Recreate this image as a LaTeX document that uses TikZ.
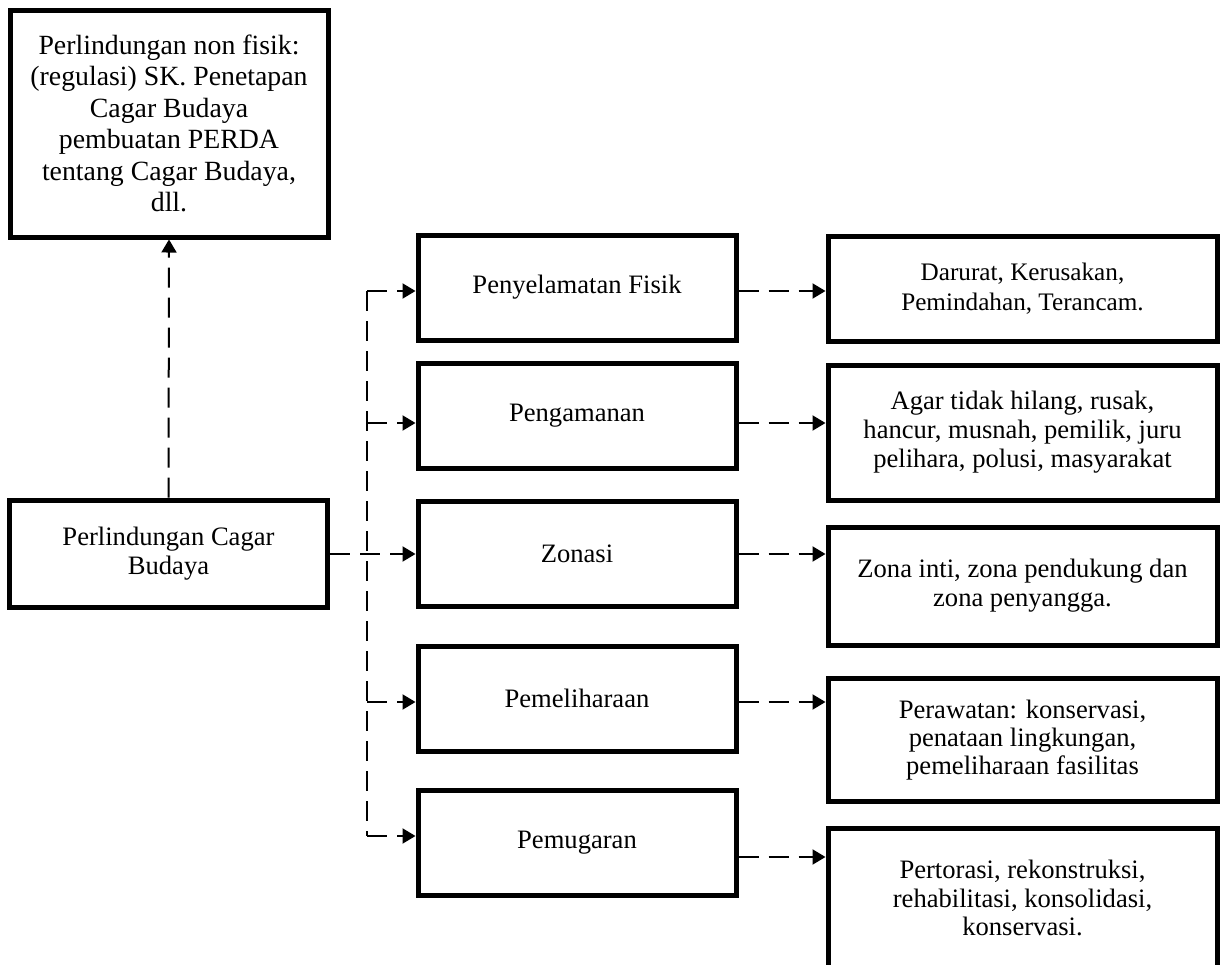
\documentclass[tikz,border=0pt]{standalone}
\usepackage{fontspec}
\setmainfont{Liberation Serif}
\usetikzlibrary{arrows.meta}
\begin{document}
\begin{tikzpicture}[x=0.5pt,y=-0.5pt,line join=miter,
	>={Triangle[length=6.5pt,width=7.5pt]},
	kotak/.style={draw,line width=2.5pt,align=center,inner sep=0pt,font=\fontsize{13.3}{14.5}\selectfont},
	panah/.style={->,line width=1pt,dash pattern=on 10pt off 5pt}]
	\clip (0,0) rectangle (1220,964);
	\def\wa{159pt} % lebar kotak kiri dan tengah
	\def\wb{194.5pt} % lebar kotak kanan
	\def\hm{52.5pt} % tinggi kotak tengah
	\path 
	(367,291) coordinate (t1)
	(367,423) coordinate (t2)
	(367,554) coordinate (t3)
	(367,702) coordinate (t4)
	(367,836) coordinate (t5)
	(0,857) coordinate (r5);
	% kotak kiri
	\node[kotak,minimum width=\wa,minimum height=113.5pt,font=\fontsize{13.9}{15.75}\selectfont] (nonfisik) at (169,123.5) {Perlindungan non fisik:\\ (regulasi) SK. Penetapan\\ Cagar Budaya\\ pembuatan PERDA\\ tentang Cagar Budaya,\\ dll.};
	\node[kotak,minimum width=\wa,minimum height=53.5pt] (cagar) at (168.5,553.5) {Perlindungan Cagar\\ Budaya};
	% kotak tengah
	\node[kotak,minimum width=\wa,minimum height=\hm] (penyelamatan) at (577,287.5) {Penyelamatan Fisik};
	\node[kotak,minimum width=\wa,minimum height=\hm] (pengamanan) at (577,416) {Pengamanan};
	\node[kotak,minimum width=\wa,minimum height=\hm] (zonasi) at (577,554) {Zonasi};
	\node[kotak,minimum width=\wa,minimum height=\hm] (pemeliharaan) at (577,698.5) {Pemeliharaan};
	\node[kotak,minimum width=\wa,minimum height=\hm] (pemugaran) at (577,842.5) {Pemugaran};
	% kotak kanan
	\node[kotak,minimum width=\wb,minimum height=\hm,font=\fontsize{12.6}{15}\selectfont] (darurat) at (1022.5,288.5) {Darurat, Kerusakan,\\ Pemindahan, Terancam.};
	\node[kotak,minimum width=\wb,minimum height=67.5pt] (agar) at (1022.5,432.5) {Agar tidak hilang, rusak,\\ hancur, musnah, pemilik, juru\\ pelihara, polusi, masyarakat};
	\node[kotak,minimum width=\wb,minimum height=59pt] (zona) at (1022.5,586) {Zona inti, zona pendukung dan\\ zona penyangga.};
	\node[kotak,minimum width=\wb,minimum height=61.5pt,font=\fontsize{13.3}{14}\selectfont] (perawatan) at (1022.5,740) {Perawatan: konservasi,\\ penataan lingkungan,\\ pemeliharaan fasilitas};
	\node[kotak,minimum width=\wb,minimum height=70pt,font=\fontsize{13.3}{14.2}\selectfont] (pertorasi) at (1022.5,898) {Pertorasi, rekonstruksi,\\ rehabilitasi, konsolidasi,\\ konservasi.};
	% garis putus-putus
	\draw[panah] (cagar.north) -- (nonfisik.south);
	\draw[line width=1pt,dash pattern=on 10pt off 5pt] (t1) -- (t5);
	\draw[panah] (t1) -- (penyelamatan.west |- t1);
	\draw[panah] (t2) -- (pengamanan.west |- t2);
	\draw[panah] (cagar.east |- t3) -- (zonasi.west |- t3);
	\draw[panah] (t4) -- (pemeliharaan.west |- t4);
	\draw[panah] (t5) -- (pemugaran.west |- t5);
	% ke kotak kanan
	\draw[panah] (penyelamatan.east |- t1) -- (darurat.west |- t1);
	\draw[panah] (pengamanan.east |- t2) -- (agar.west |- t2);
	\draw[panah] (zonasi.east |- t3) -- (zona.west |- t3);
	\draw[panah] (pemeliharaan.east |- t4) -- (perawatan.west |- t4);
	\draw[panah] (pemugaran.east |- r5) -- (pertorasi.west |- r5);
\end{tikzpicture}
\end{document}
